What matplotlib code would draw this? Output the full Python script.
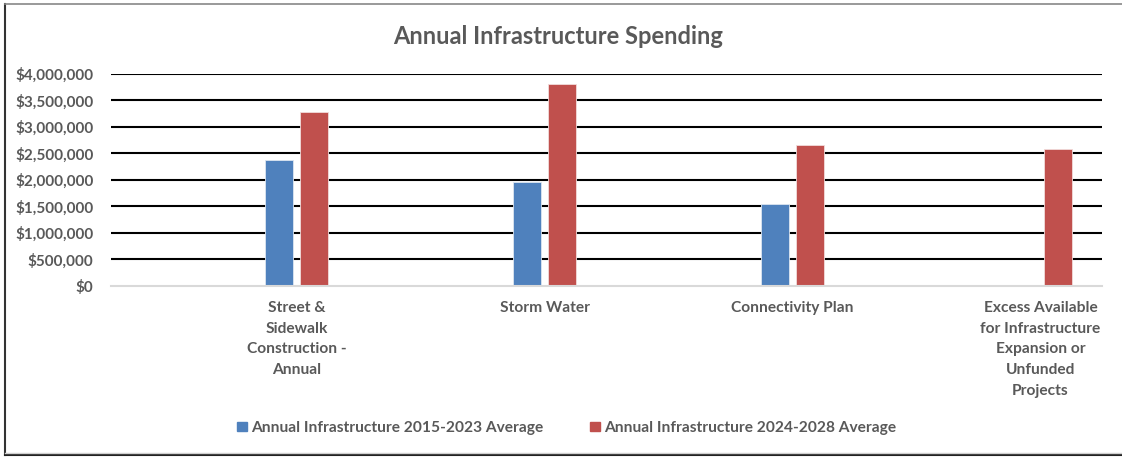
import numpy as np
import matplotlib.pyplot as plt
from matplotlib.patches import Patch
from matplotlib.lines import Line2D
from matplotlib.ticker import FuncFormatter

# dados do grafico
categorias = ["Street &\nSidewalk\nConstruction -\nAnnual", "Storm Water",
              "Connectivity Plan",
              "Excess Available\nfor Infrastructure\nExpansion or\nUnfunded\nProjects"]
media_2015_2023 = [2370000, 1960000, 1550000, 0]
media_2024_2028 = [3270000, 3800000, 2660000, 2575000]
serie_nomes = ["Annual Infrastructure 2015-2023 Average",
               "Annual Infrastructure 2024-2028 Average"]

azul = "#4F81BD"
vermelho = "#C0504D"
cinza = "#595959"

plt.rcParams["font.family"] = ["Lato", "DejaVu Sans"]
plt.rcParams["font.weight"] = "bold"

fig = plt.figure(figsize=(11.22, 4.57), dpi=100)
W, H = 1122, 457
ax = fig.add_axes([111 / W, 171 / H, (1102 - 111) / W, (286 - 73.7) / H])

x = np.arange(len(categorias))
larg = 0.113
desl = 0.071
ax.bar(x - desl, media_2015_2023, larg, color=azul, edgecolor="#dce6f1", linewidth=0.6, zorder=3)
ax.bar(x + desl, media_2024_2028, larg, color=vermelho, edgecolor="#f2dcdb", linewidth=0.6, zorder=3)

ax.set_xlim(-0.749, 3.248)
ax.set_ylim(0, 4000000)
ax.set_yticks(np.arange(0, 4000001, 500000))
ax.yaxis.set_major_formatter(FuncFormatter(lambda v, p: "${:,.0f}".format(v)))
ax.set_xticks(x)
ax.set_xticklabels(categorias, linespacing=1.6, va="top")

ax.grid(axis="y", color="black", linewidth=1.5, zorder=0)
for s in ["top", "right", "left"]:
    ax.spines[s].set_visible(False)
ax.spines["bottom"].set_color("#d9d9d9")
ax.spines["bottom"].set_linewidth(1.5)
ax.spines["bottom"].set_zorder(4)
ax.tick_params(axis="both", length=0, labelsize=11, labelcolor=cinza)
ax.tick_params(axis="x", labelsize=11.2, pad=11)
ax.tick_params(axis="y", pad=12.5)
# esconder a linha de grade no zero (fica o eixo cinza)
ax.get_ygridlines()[0].set_visible(False)

fig.text(558 / W, 1 - 36 / H, "Annual Infrastructure Spending", ha="center", va="center",
         fontsize=17, color=cinza, fontweight="bold")

handles = [Patch(color=azul), Patch(color=vermelho)]
fig.legend(handles, serie_nomes, loc="center", bbox_to_anchor=(567 / W, 1 - 428 / H),
           ncol=2, frameon=False, fontsize=11.2, handlelength=0.6, handleheight=0.6,
           handletextpad=0.3, columnspacing=3.0, labelcolor=cinza)

# moldura do grafico
fig.add_artist(Line2D([4.5 / W, 4.5 / W], [1 - 4 / H, 1 - 455 / H], color="#333333", lw=1.5))
fig.add_artist(Line2D([4.5 / W, 1], [1 - 4 / H, 1 - 4 / H], color="#888888", lw=1.2))
fig.add_artist(Line2D([4.5 / W, 1], [1 - 455 / H, 1 - 455 / H], color="#222222", lw=1.5))
fig.add_artist(Line2D([4.5 / W, 1], [1 - 453 / H, 1 - 453 / H], color="#d0d0d0", lw=1))

fig.savefig("out.png", dpi=100)
